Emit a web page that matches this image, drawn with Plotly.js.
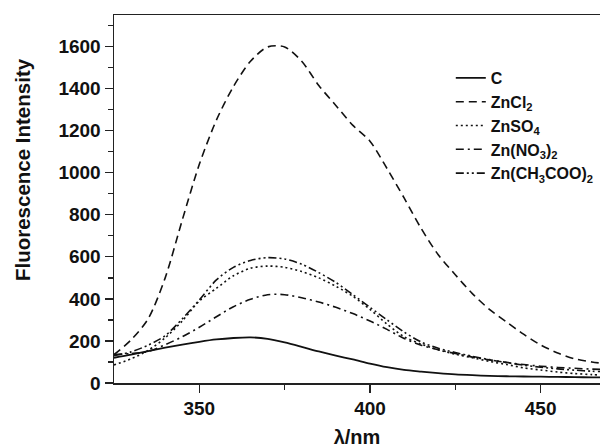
<!DOCTYPE html>
<html>
<head>
<meta charset="utf-8">
<script src="https://cdn.plot.ly/plotly-3.0.1.min.js"></script>
<style>html,body{margin:0;padding:0;background:#fff;}#chart{width:600px;height:448px;}</style>
</head>
<body>
<div id="chart"></div>
<script>
// Wavelength grid (nm)
const wavelength = [325,330,335,340,345,350,355,360,365,370,375,380,385,390,395,400,405,410,415,420,425,430,435,440,445,450,455,460,465,470];

// Series (fluorescence intensity)
const seriesC       = [120,135,152,168,183,196,207,214,217,210,193,172,150,130,112,92,75,62,54,47,41,37,34,32,31,30,29,28,27,27];
const seriesZnCl2   = [135,205,305,500,775,1040,1250,1410,1530,1598,1598,1530,1415,1320,1225,1150,1020,880,735,610,515,425,350,290,232,181,143,115,100,90];
const seriesZnSO4   = [86,115,155,215,295,390,450,510,546,556,550,530,500,460,412,350,280,220,185,158,137,120,103,88,72,62,52,45,40,36];
const seriesZnNO3   = [135,140,150,182,220,265,315,363,398,420,420,405,385,360,330,295,255,212,180,158,140,123,110,98,88,80,74,70,66,64];
const seriesZnAc    = [130,148,180,225,305,395,490,550,583,596,590,565,525,478,420,360,300,242,195,165,145,127,111,97,85,75,67,61,56,53];

const seriesNames = ['C','ZnCl<sub>2</sub>','ZnSO<sub>4</sub>','Zn(NO<sub>3</sub>)<sub>2</sub>','Zn(CH<sub>3</sub>COO)<sub>2</sub>'];
const xTitle = 'λ/nm';
const yTitle = 'Fluorescence Intensity';

const allSeries = [seriesC, seriesZnCl2, seriesZnSO4, seriesZnNO3, seriesZnAc];
const dashes = ['solid','8px,5px','2px,3px','8px,4px,2px,4px','8px,3px,2px,3px,2px,3px'];
const widths = [1.8,1.6,1.6,1.6,1.6];

const traces = allSeries.map((s,i)=>({
  x: wavelength, y: s, name: seriesNames[i], type:'scatter', mode:'lines',
  line:{color:'#111', width:widths[i], dash:dashes[i], shape:'spline', smoothing:0.8}
}));

const F = 'Liberation Sans, Arial, Helvetica, sans-serif';
const layout = {
  width:600, height:448,
  margin:{l:114, r:0, t:15, b:65},
  paper_bgcolor:'#fff', plot_bgcolor:'#fff',
  showlegend:true,
  legend:{x:0.693, y:0.875, xanchor:'left', yanchor:'top', bgcolor:'rgba(0,0,0,0)',
          font:{family:F, size:16, color:'#111', weight:'bold'}, tracegroupgap:0},
  xaxis:{range:[325,467.4], tickvals:[350,400,450], ticks:'outside', ticklen:8, tickwidth:1.3,
         tickcolor:'#222', showline:true, linecolor:'#222', linewidth:1.5, mirror:true,
         showgrid:false, zeroline:false,
         minor:{tickvals:[375,425], ticks:'outside', ticklen:5, tickwidth:1.3, tickcolor:'#222', showgrid:false},
         tickfont:{family:F, size:19, color:'#111', weight:'bold'},
         title:{text:xTitle, standoff:12, font:{family:F, size:20, color:'#111', weight:'bold'}}},
  yaxis:{range:[0,1750], tickvals:[0,200,400,600,800,1000,1200,1400,1600], ticks:'outside', ticklen:8, tickwidth:1.3,
         tickcolor:'#222', showline:true, linecolor:'#222', linewidth:1.5,
         showgrid:false, zeroline:false,
         minor:{dtick:100, ticks:'outside', ticklen:5, tickwidth:1.3, tickcolor:'#222', showgrid:false},
         tickfont:{family:F, size:19, color:'#111', weight:'bold'}},
  annotations:[{text:yTitle, xref:'paper', yref:'paper', x:-0.187, y:0.579, textangle:-90,
                showarrow:false, xanchor:'center', yanchor:'middle',
                font:{family:F, size:20.5, color:'#111', weight:'bold'}}]
};

Plotly.newPlot('chart', traces, layout, {staticPlot:true, displayModeBar:false});
</script>
</body>
</html>
